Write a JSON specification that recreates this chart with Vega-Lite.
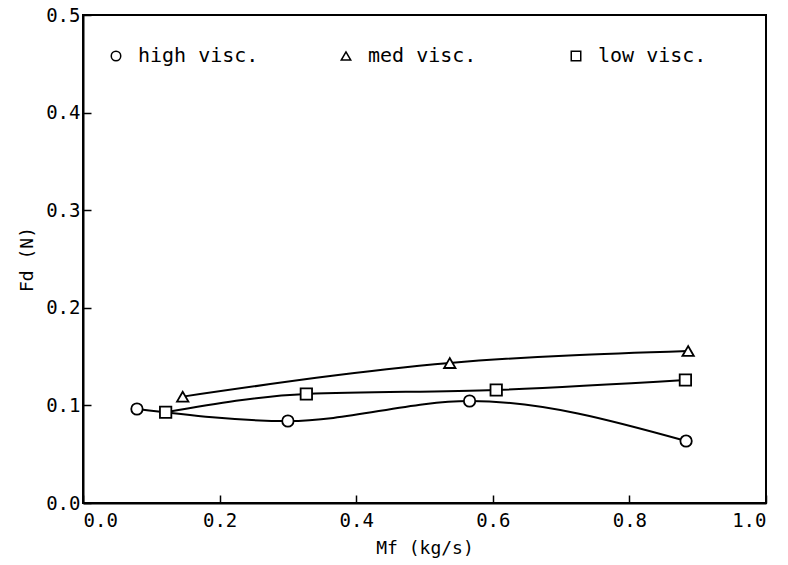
{
  "$schema": "https://vega.github.io/schema/vega-lite/v6.json",
  "width": 683,
  "height": 488,
  "autosize": {"type": "none"},
  "padding": {"left": 83, "top": 15, "right": 22, "bottom": 62},
  "background": "white",
  "config": {
    "view": {"stroke": "black", "strokeWidth": 2},
    "font": "DejaVu Sans Mono",
    "axis": {
      "labelFont": "DejaVu Sans Mono",
      "titleFont": "DejaVu Sans Mono",
      "labelFontSize": 19,
      "titleFontSize": 18,
      "labelColor": "black",
      "titleColor": "black",
      "titleFontWeight": "normal",
      "grid": false,
      "domainColor": "black",
      "domainWidth": 2,
      "tickColor": "black",
      "tickWidth": 1.5,
      "tickSize": -8
    },
    "legend": {
      "labelFont": "DejaVu Sans Mono",
      "labelFontSize": 20,
      "labelColor": "black"
    }
  },
  "data": {
    "values": [
      {"series": "high visc.", "Mf": 0.079, "Fd": 0.0963},
      {"series": "high visc.", "Mf": 0.300, "Fd": 0.0840},
      {"series": "high visc.", "Mf": 0.566, "Fd": 0.1045},
      {"series": "high visc.", "Mf": 0.883, "Fd": 0.0635},
      {"series": "med visc.", "Mf": 0.146, "Fd": 0.1090},
      {"series": "med visc.", "Mf": 0.537, "Fd": 0.1434},
      {"series": "med visc.", "Mf": 0.886, "Fd": 0.1557},
      {"series": "low visc.", "Mf": 0.121, "Fd": 0.0930},
      {"series": "low visc.", "Mf": 0.327, "Fd": 0.1117},
      {"series": "low visc.", "Mf": 0.605, "Fd": 0.1158},
      {"series": "low visc.", "Mf": 0.882, "Fd": 0.1260}
    ]
  },
  "encoding": {
    "x": {
      "field": "Mf",
      "type": "quantitative",
      "scale": {"domain": [0, 1], "nice": false, "zero": false},
      "axis": {
        "title": "Mf (kg/s)",
        "values": [0, 0.2, 0.4, 0.6, 0.8, 1.0],
        "format": ".1f",
        "labelPadding": 16,
        "titleY": 45,
        "titleBaseline": "middle"
      }
    },
    "y": {
      "field": "Fd",
      "type": "quantitative",
      "scale": {"domain": [0, 0.5], "nice": false, "zero": false},
      "axis": {
        "title": "Fd (N)",
        "values": [0, 0.1, 0.2, 0.3, 0.4, 0.5],
        "format": ".1f",
        "labelPadding": 11,
        "titleX": -56,
        "titleY": 244,
        "titleBaseline": "middle"
      }
    }
  },
  "layer": [
    {
      "mark": {"type": "line", "interpolate": "monotone", "color": "black", "strokeWidth": 2},
      "encoding": {"detail": {"field": "series", "type": "nominal"}}
    },
    {
      "mark": {"type": "point", "filled": false, "color": "black", "fill": "white", "fillOpacity": 1, "stroke": "black", "strokeWidth": 1.8, "opacity": 1, "size": 130},
      "encoding": {
        "shape": {
          "field": "series",
          "type": "nominal",
          "scale": {"domain": ["high visc.", "med visc.", "low visc."], "range": ["circle", "triangle-up", "square"]},
          "legend": {
            "title": null,
            "orient": "none",
            "direction": "horizontal",
            "columns": 3,
            "gridAlign": "all",
            "columnPadding": 77,
            "labelOffset": 12,
            "symbolSize": 90,
            "padding": 0,
            "legendX": 23,
            "legendY": 31,
            "encode": {
              "symbols": {
                "update": {
                  "stroke": {"value": "black"},
                  "fill": {"value": "white"},
                  "strokeWidth": {"value": 1.8},
                  "opacity": {"value": 1},
                  "fillOpacity": {"value": 1},
                  "strokeOpacity": {"value": 1}
                }
              }
            }
          }
        }
      }
    }
  ]
}
